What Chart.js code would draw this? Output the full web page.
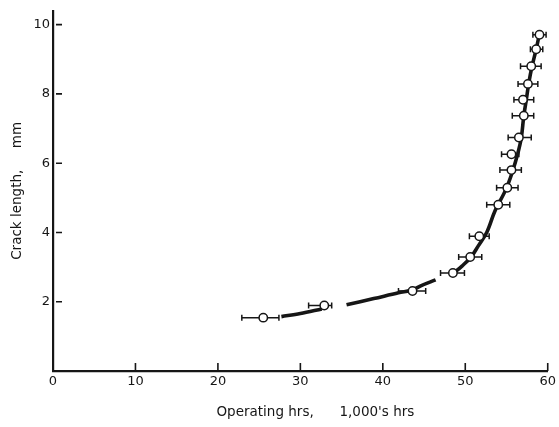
<!DOCTYPE html>
<html>
<head>
<meta charset="utf-8">
<script src="https://cdn.jsdelivr.net/npm/chart.js@4/dist/chart.umd.min.js"></script>
<style>
  html, body { margin: 0; padding: 0; background: #ffffff; }
  #wrap { width: 559px; height: 427px; }
</style>
</head>
<body>
<div id="wrap"><canvas id="c" width="559" height="427"></canvas></div>
<script>
// Measured points (operating hours in 1,000's hrs, crack length in mm)
const hoursMid   = [25.5, 32.9, 43.6, 48.5, 50.6, 51.7, 54.0, 55.1, 55.6, 55.6, 56.5, 57.1, 57.0, 57.6, 58.0, 58.6, 59.0];
const crackMm    = [1.54, 1.89, 2.31, 2.83, 3.29, 3.89, 4.80, 5.29, 5.80, 6.26, 6.74, 7.37, 7.83, 8.29, 8.80, 9.29, 9.71];
const hoursLow   = [22.9, 31.0, 41.9, 47.0, 49.2, 50.5, 52.6, 53.8, 54.2, 54.4, 55.2, 55.7, 55.9, 56.4, 56.7, 57.9, 58.2];
const hoursHigh  = [27.4, 33.8, 45.2, 49.9, 52.0, 52.9, 55.4, 56.4, 56.8, 56.5, 58.0, 58.3, 58.3, 58.8, 59.2, 59.4, 59.8];

// Fitted curve (null = gap in the drawn line)
const curveHours = [27.7, 30.0, 32.6, null, 35.6, 38.9, 41.9, 43.6, 44.6, 46.4, null, 48.6, 49.6, 50.7, 51.6, 52.6, 53.6, 54.9, 55.7, 56.4, 56.8, 57.1, 57.4, 57.7, 58.1, 58.6, 59.0];
const curveMm    = [1.57, 1.66, 1.79, null, 1.91, 2.09, 2.26, 2.34, 2.46, 2.63, null, 2.83, 3.03, 3.29, 3.62, 4.00, 4.62, 5.23, 5.74, 6.31, 6.74, 7.37, 7.83, 8.31, 8.80, 9.29, 9.74];

// Axis ticks
const xTicks = [0, 10, 20, 30, 40, 50, 60];
const yTicks = [0, 2, 4, 6, 8, 10];

const xTitle = "       Operating hrs,      1,000's hrs";
const yTitle = "Crack length,     mm";

const ink = '#161616';
const fontFamily = '"DejaVu Sans", "Liberation Sans", sans-serif';

const pointData = hoursMid.map((h, i) => ({ x: h, y: crackMm[i] }));
const curveData = curveHours.map((h, i) => (h === null ? { x: null, y: null } : { x: h, y: curveMm[i] }));

const errorBarPlugin = {
  id: 'errorBars',
  afterDatasetDraw(chart, args) {
    if (args.index !== 0) return;
    const { ctx, scales: { x, y } } = chart;
    ctx.save();
    ctx.strokeStyle = ink;
    ctx.lineWidth = 1.5;
    for (let i = 0; i < hoursMid.length; i++) {
      const py = y.getPixelForValue(crackMm[i]);
      const x1 = x.getPixelForValue(hoursLow[i]);
      const x2 = x.getPixelForValue(hoursHigh[i]);
      ctx.beginPath();
      ctx.moveTo(x1, py); ctx.lineTo(x2, py);
      ctx.moveTo(x1, py - 3); ctx.lineTo(x1, py + 3);
      ctx.moveTo(x2, py - 3); ctx.lineTo(x2, py + 3);
      ctx.stroke();
    }
    ctx.restore();
  }
};

const innerTicksPlugin = {
  id: 'innerTicks',
  afterDraw(chart) {
    const { ctx, scales: { x, y }, chartArea } = chart;
    ctx.save();
    ctx.strokeStyle = ink;
    ctx.lineWidth = 1.6;
    ctx.beginPath();
    xTicks.forEach(v => {
      if (v === 0) return;
      const px = x.getPixelForValue(v);
      ctx.moveTo(px, chartArea.bottom);
      ctx.lineTo(px, chartArea.bottom - 8);
    });
    yTicks.forEach(v => {
      if (v === 0) return;
      const py = y.getPixelForValue(v);
      ctx.moveTo(chartArea.left + 3, py);
      ctx.lineTo(chartArea.left + 9, py);
    });
    ctx.stroke();
    ctx.restore();
  }
};

new Chart(document.getElementById('c'), {
  type: 'scatter',
  data: {
    datasets: [
      {
        label: 'curve',
        data: curveData,
        showLine: true,
        spanGaps: false,
        borderColor: ink,
        borderWidth: 3.6,
        pointRadius: 0,
        tension: 0.35,
        fill: false,
        order: 2
      },
      {
        label: 'measured',
        data: pointData,
        showLine: false,
        pointStyle: 'circle',
        pointRadius: 4.2,
        pointBorderWidth: 1.5,
        pointBackgroundColor: '#ffffff',
        pointBorderColor: ink,
        order: 1
      }
    ]
  },
  options: {
    responsive: false,
    animation: false,
    devicePixelRatio: 1,
    layout: { padding: { top: 7, right: 2, left: 0, bottom: 0 } },
    plugins: {
      legend: { display: false },
      tooltip: { enabled: false }
    },
    scales: {
      x: {
        type: 'linear',
        min: 0,
        max: 60,
        afterBuildTicks(scale) { scale.ticks = xTicks.map(v => ({ value: v })); },
        afterFit(scale) { scale.height = 56; },
        grid: { display: false, drawTicks: false },
        border: { display: true, color: ink, width: 2.2 },
        ticks: {
          color: ink,
          padding: 3,
          maxRotation: 0,
          font: { family: fontFamily, size: 13 },
          callback: (v) => String(v)
        },
        title: {
          display: true,
          text: xTitle,
          color: ink,
          font: { family: fontFamily, size: 13.5 },
          padding: { top: 0, bottom: 6 }
        }
      },
      y: {
        type: 'linear',
        min: 0,
        max: 10.4,
        afterBuildTicks(scale) { scale.ticks = yTicks.map(v => ({ value: v })); },
        afterFit(scale) { scale.width = 53; },
        grid: { display: false, drawTicks: false },
        border: { display: true, color: ink, width: 2.2 },
        ticks: {
          color: ink,
          padding: 3,
          font: { family: fontFamily, size: 13 },
          callback: (v) => (v === 0 ? '' : String(v))
        },
        title: {
          display: true,
          text: yTitle,
          color: ink,
          font: { family: fontFamily, size: 13.5 },
          padding: { top: 9, bottom: 0 }
        }
      }
    }
  },
  plugins: [errorBarPlugin, innerTicksPlugin]
});
</script>
</body>
</html>
